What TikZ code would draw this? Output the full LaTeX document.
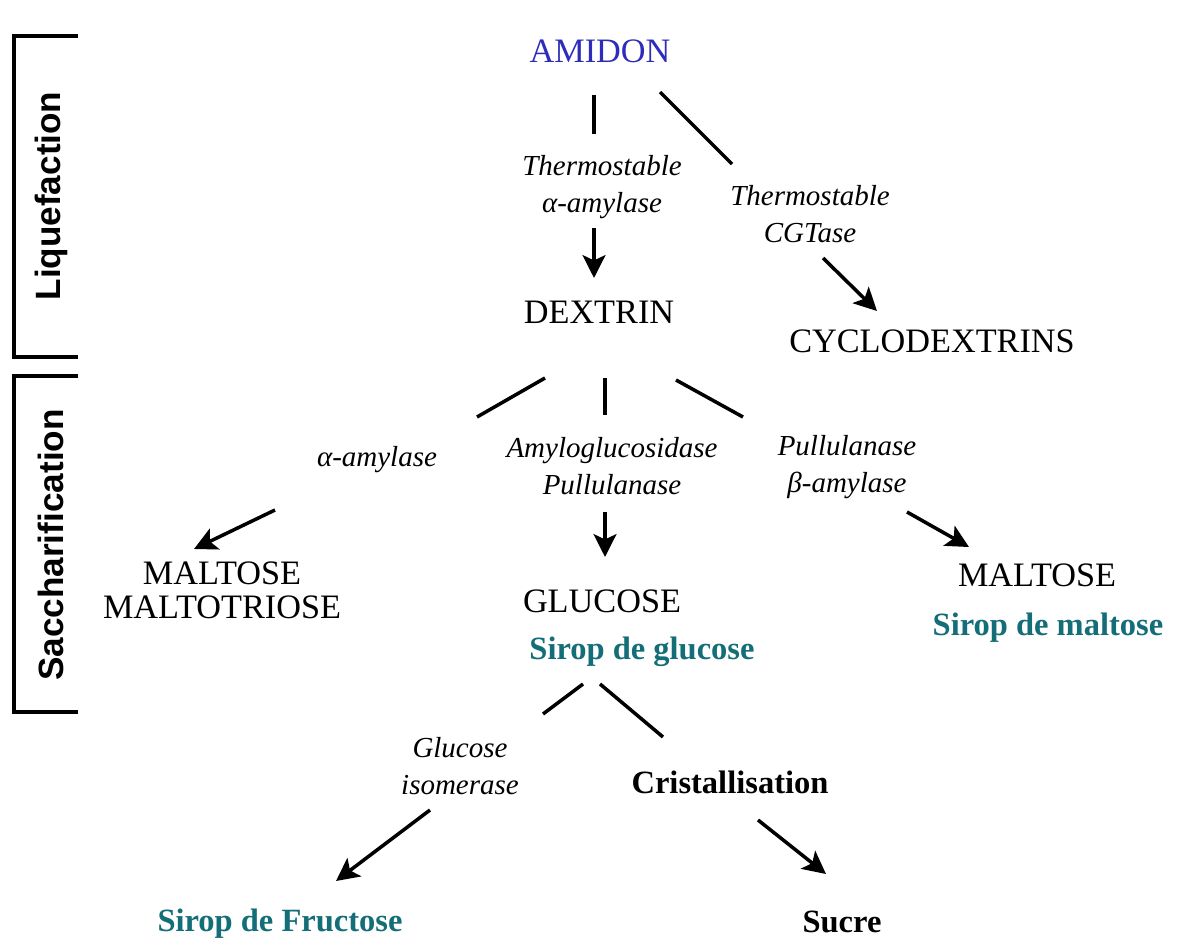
\documentclass[tikz,border=0pt]{standalone}
\usepackage{fontspec}
\setmainfont{Liberation Serif}
\newfontfamily\phasefont{Liberation Sans}
\usepackage{tikz}
\usetikzlibrary{arrows.meta}
\definecolor{amidonblue}{RGB}{45,45,185}
\definecolor{siropteal}{RGB}{20,110,120}

\begin{document}
\begin{tikzpicture}[
    x=0.02cm, y=-0.02cm,
    prod/.style={font=\fontsize{19.5}{19.5}\selectfont, align=center, inner sep=0pt},
    enz/.style={font=\fontsize{16.5}{21.5}\selectfont\itshape, align=center, inner sep=0pt},
    sirop/.style={font=\fontsize{18.5}{18.5}\selectfont\bfseries, text=siropteal, inner sep=0pt},
    phase/.style={font=\fontsize{20}{20}\selectfont\phasefont\bfseries, rotate=90, inner sep=0pt},
    link/.style={line width=2pt},
    arrow/.style={-{Stealth[length=13pt,width=13pt,inset=3pt]}, line width=2pt},
    bracket/.style={line width=2.4pt}
  ]
  \useasboundingbox (0,0) rectangle (1186,946);

  % Phases
  \draw[bracket] (78,36) -| (14,357) -- (78,357);
  \draw[bracket] (78,376) -| (14,712) -- (78,712);
  \node[phase] (liq) at (51,196) {Liquefaction};
  \node[phase] (sac) at (51,545) {Saccharification};

  % Liquefaction
  \node[prod, text=amidonblue] (amidon) at (600,51) {AMIDON};
  \node[enz] (enzAlpha) at (602,187) {Thermostable\\α-amylase};
  \node[enz] (enzCgt) at (810,214) {Thermostable\\CGTase};
  \node[prod] (dextrin) at (599,312) {DEXTRIN};
  \node[prod] (cyclo) at (932,341) {CYCLODEXTRINS};

  \coordinate (l1a) at (594,95);  \coordinate (l1b) at (594,134);
  \coordinate (l2a) at (660,92);  \coordinate (l2b) at (732,164);
  \coordinate (r1a) at (594,228); \coordinate (r1b) at (594,278);
  \coordinate (r2a) at (823,258); \coordinate (r2b) at (877,311);
  \draw[link] (l1a) -- (l1b);
  \draw[link] (l2a) -- (l2b);
  \draw[arrow] (r1a) -- (r1b);
  \draw[arrow] (r2a) -- (r2b);

  % Saccharification
  \node[enz] (enzAlphaL) at (377,460) {α-amylase};
  \node[enz] (enzAmylo) at (612,466) {Amyloglucosidase\\Pullulanase};
  \node[enz] (enzBeta) at (847,467) {Pullulanase\\β-amylase};
  \node[prod] (maltotri) at (222,590) {MALTOSE\\MALTOTRIOSE};
  \node[prod] (glucose) at (602,601) {GLUCOSE};
  \node[sirop] (siropGlu) at (642,652) {Sirop de glucose};
  \node[prod] (maltose) at (1037,575) {MALTOSE};
  \node[sirop] (siropMal) at (1048,628) {Sirop de maltose};

  \coordinate (l3a) at (545,378); \coordinate (l3b) at (477,417);
  \coordinate (l4a) at (605,378); \coordinate (l4b) at (605,415);
  \coordinate (l5a) at (676,380); \coordinate (l5b) at (743,417);
  \coordinate (r3a) at (275,510); \coordinate (r3b) at (194,549);
  \coordinate (r4a) at (605,512); \coordinate (r4b) at (605,557);
  \coordinate (r5a) at (907,512); \coordinate (r5b) at (969,547);
  \draw[link] (l3a) -- (l3b);
  \draw[link] (l4a) -- (l4b);
  \draw[link] (l5a) -- (l5b);
  \draw[arrow] (r3a) -- (r3b);
  \draw[arrow] (r4a) -- (r4b);
  \draw[arrow] (r5a) -- (r5b);

  % Glucose
  \node[enz] (enzIso) at (460,766) {Glucose\\isomerase};
  \node[prod, font=\fontsize{18.5}{18.5}\selectfont\bfseries] (crist) at (730,782) {Cristallisation};
  \node[sirop] (siropFru) at (280,924) {Sirop de Fructose};
  \node[prod, font=\fontsize{18.5}{18.5}\selectfont\bfseries] (sucre) at (842,922) {Sucre};

  \coordinate (l6a) at (583,684); \coordinate (l6b) at (543,714);
  \coordinate (l7a) at (600,684); \coordinate (l7b) at (663,737);
  \coordinate (r6a) at (430,810); \coordinate (r6b) at (336,881);
  \coordinate (r7a) at (758,820); \coordinate (r7b) at (826,874);
  \draw[link] (l6a) -- (l6b);
  \draw[link] (l7a) -- (l7b);
  \draw[arrow] (r6a) -- (r6b);
  \draw[arrow] (r7a) -- (r7b);
\end{tikzpicture}
\end{document}
